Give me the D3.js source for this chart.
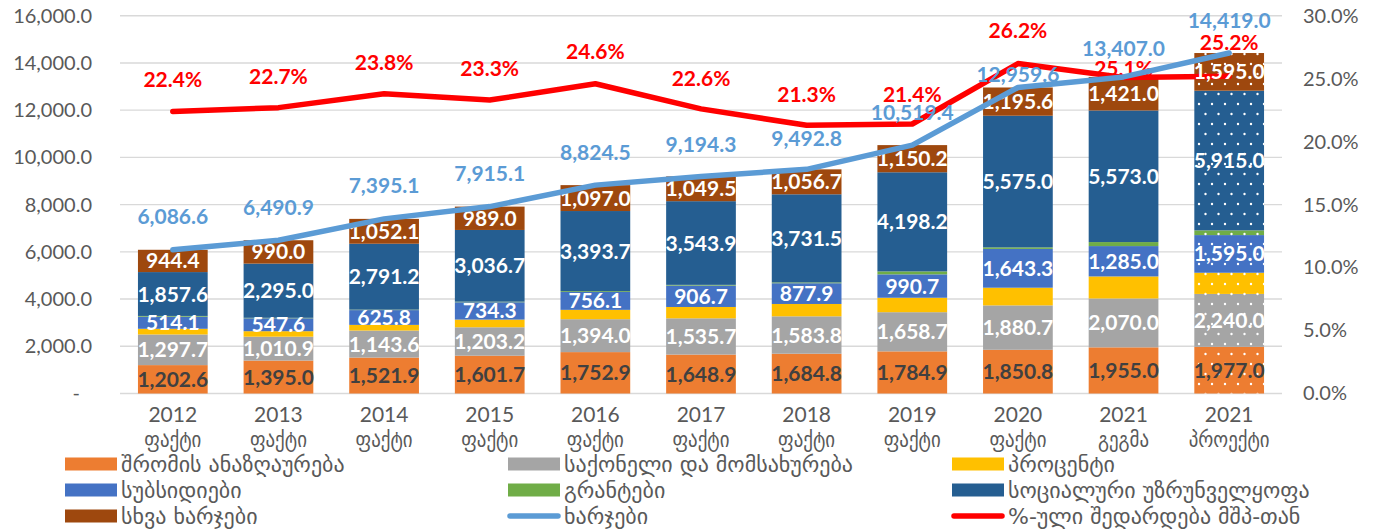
<!DOCTYPE html>
<html>
<head>
<meta charset="utf-8">
<script src="https://cdn.jsdelivr.net/npm/d3@7"></script>
<style>
  html, body { margin: 0; padding: 0; background: #fff; }
  svg { display: block; }
  text { font-family: Lato, "DejaVu Sans", sans-serif; }
</style>
</head>
<body>
<svg id="chart" width="1379" height="529"></svg>
<script>
// ---------------- DATA ----------------
const years = ["2012","2013","2014","2015","2016","2017","2018","2019","2020","2021","2021"];
const kinds = ["ფაქტი","ფაქტი","ფაქტი","ფაქტი","ფაქტი","ფაქტი","ფაქტი","ფაქტი","ფაქტი","გეგმა","პროექტი"];

const wages     = [1202.6, 1395.0, 1521.9, 1601.7, 1752.9, 1648.9, 1684.8, 1784.9, 1850.8, 1955.0, 1977.0];
const goods     = [1297.7, 1010.9, 1143.6, 1203.2, 1394.0, 1535.7, 1583.8, 1658.7, 1880.7, 2070.0, 2240.0];
const interest  = [240.2, 232.4, 240.5, 325.2, 395.8, 479.6, 523.1, 611.7, 749.2, 933.0, 897.0];
const subsidies = [514.1, 547.6, 625.8, 734.3, 756.1, 906.7, 877.9, 990.7, 1643.3, 1285.0, 1595.0];
const grants    = [30.0, 20.0, 20.0, 25.0, 35.0, 30.0, 35.0, 125.0, 65.0, 170.0, 200.0];
const social    = [1857.6, 2295.0, 2791.2, 3036.7, 3393.7, 3543.9, 3731.5, 4198.2, 5575.0, 5573.0, 5915.0];
const other     = [944.4, 990.0, 1052.1, 989.0, 1097.0, 1049.5, 1056.7, 1150.2, 1195.6, 1421.0, 1595.0];
const totals    = [6086.6, 6490.9, 7395.1, 7915.1, 8824.5, 9194.3, 9492.8, 10519.4, 12959.6, 13407.0, 14419.0];
const gdpShare  = [22.4, 22.7, 23.8, 23.3, 24.6, 22.6, 21.3, 21.4, 26.2, 25.1, 25.2];

const leftTicks  = [0, 2000, 4000, 6000, 8000, 10000, 12000, 14000, 16000];
const rightTicks = [0, 5, 10, 15, 20, 25, 30];

const seriesNames = ["შრომის ანაზღაურება","საქონელი და მომსახურება","პროცენტი","სუბსიდიები","გრანტები","სოციალური უზრუნველყოფა","სხვა ხარჯები"];
const totalName = "ხარჯები";
const pctName = "%-ული შედარდება მშპ-თან";

// ---------------- STYLE / LAYOUT ----------------
const seriesValues = [wages, goods, interest, subsidies, grants, social, other];
const seriesColors = ["#ED7D31","#A5A5A5","#FFC000","#4472C4","#70AD47","#255E91","#9E480E"];
const seriesLabelColor = ["#404040","#ffffff",null,"#ffffff",null,"#ffffff","#ffffff"];
const totalColor = "#5B9BD5", pctColor = "#FF0000";
const axisColor = "#595959", gridColor = "#D9D9D9";
const totalLabelLift = [33,33,33,33,33,32,31,33,13.5,28.6,32.3];
const pctLabelLift   = [31.5,31.5,31,31.7,32,30.6,31.3,30,33,9,33.5];
const geoFont = "Lato, 'DejaVu Sans Condensed', 'DejaVu Sans', sans-serif";
const legFont = "'DejaVu Sans', sans-serif";

const svg = d3.select("#chart");
const plotL = 120, plotR = 1282, plotB = 393.5, plotT = 15.7;

const x = d3.scaleBand().domain(d3.range(years.length)).range([plotL, plotR]).paddingInner(0.34).paddingOuter(0.17);
const y = d3.scaleLinear().domain([0, 16000]).range([plotB, plotT]);
const yR = d3.scaleLinear().domain([0, 30]).range([plotB, plotT]);
const cx = i => x(i) + x.bandwidth() / 2;

// pattern for the projected bar
const defs = svg.append("defs");
const pat = defs.append("pattern").attr("id","dots").attr("width",13).attr("height",20).attr("patternUnits","userSpaceOnUse");
pat.append("circle").attr("cx",3).attr("cy",4).attr("r",1.2).attr("fill","#fff");
pat.append("circle").attr("cx",9.5).attr("cy",14).attr("r",1.2).attr("fill","#fff");

// gridlines
svg.append("g").selectAll("line").data(leftTicks).join("line")
  .attr("x1", plotL).attr("x2", plotR)
  .attr("y1", d => y(d)).attr("y2", d => y(d))
  .attr("stroke", gridColor).attr("stroke-width", 1.4);

// left axis
const fmt = d3.format(",.1f");
const la = svg.append("g").attr("transform", `translate(${plotL - 28},0)`)
  .call(d3.axisLeft(y).tickValues(leftTicks).tickSize(0).tickPadding(0)
    .tickFormat(d => d === 0 ? "-" : fmt(d)));
la.select(".domain").remove();
la.selectAll("text").attr("fill", axisColor).style("font-size","20px").style("font-family","Lato, 'DejaVu Sans', sans-serif")
  .attr("dx", d => d === 0 ? -12 : 0);

// right axis
const ra = svg.append("g").attr("transform", `translate(${plotR + 21},0)`)
  .call(d3.axisRight(yR).tickValues(rightTicks).tickSize(0).tickPadding(0)
    .tickFormat(d => d3.format(".1f")(d) + "%"));
ra.select(".domain").remove();
ra.selectAll("text").attr("fill", axisColor).style("font-size","20px").style("font-family","Lato, 'DejaVu Sans', sans-serif");

// stacked bars
const stackData = years.map((_, i) => {
  const o = {i};
  seriesValues.forEach((arr, k) => o["s" + k] = arr[i]);
  return o;
});
const stacked = d3.stack().keys(seriesValues.map((_, k) => "s" + k))(stackData);

const barG = svg.append("g");
stacked.forEach((layer, k) => {
  barG.append("g").selectAll("rect").data(layer).join("rect")
    .attr("x", d => x(d.data.i)).attr("width", x.bandwidth())
    .attr("y", d => y(d[1])).attr("height", d => y(d[0]) - y(d[1]))
    .attr("fill", seriesColors[k]);
});
// pattern overlay on the projected bar
const last = years.length - 1;
stacked.forEach(layer => {
  const d = layer[last];
  barG.append("rect").attr("x", x(last)).attr("width", x.bandwidth())
    .attr("y", y(d[1])).attr("height", y(d[0]) - y(d[1])).attr("fill", "url(#dots)");
});

// red % line
const linePct = d3.line().x((d, i) => cx(i)).y(d => yR(d));
svg.append("path").datum(gdpShare).attr("d", linePct)
  .attr("fill","none").attr("stroke", pctColor).attr("stroke-width", 5.5)
  .attr("stroke-linejoin","round").attr("stroke-linecap","round");

// bar labels
const lblG = svg.append("g");
stacked.forEach((layer, k) => {
  if (!seriesLabelColor[k]) return;
  lblG.append("g").selectAll("text").data(layer).join("text")
    .attr("x", d => cx(d.data.i)).attr("y", d => (y(d[0]) + y(d[1])) / 2)
    .attr("dy","0.36em").attr("text-anchor","middle")
    .attr("fill", seriesLabelColor[k]).style("font-size","21px").style("font-weight","700")
    .text(d => fmt(d[1] - d[0]));
});

// pct labels
svg.append("g").selectAll("text").data(gdpShare).join("text")
  .attr("x", (d, i) => cx(i)).attr("y", (d, i) => yR(d) - pctLabelLift[i])
  .attr("dy","0.36em").attr("text-anchor","middle")
  .attr("fill", pctColor).style("font-size","21px").style("font-weight","700")
  .text(d => d.toFixed(1) + "%");

// blue total line
const lineTot = d3.line().x((d, i) => cx(i)).y(d => y(d));
svg.append("path").datum(totals).attr("d", lineTot)
  .attr("fill","none").attr("stroke", totalColor).attr("stroke-width", 5.5)
  .attr("stroke-linejoin","round").attr("stroke-linecap","round");

// total labels
svg.append("g").selectAll("text").data(totals).join("text")
  .attr("x", (d, i) => cx(i)).attr("y", (d, i) => y(d) - totalLabelLift[i])
  .attr("dy","0.36em").attr("text-anchor","middle")
  .attr("fill", totalColor).style("font-size","21px").style("font-weight","700")
  .text(d => fmt(d));

// x labels
const xl = svg.append("g");
years.forEach((yr, i) => {
  const t = xl.append("text").attr("x", cx(i)).attr("text-anchor","middle")
    .attr("fill", axisColor).style("font-size","21px").style("font-family", geoFont);
  t.append("tspan").attr("x", cx(i)).attr("y", 422).text(yr);
  t.append("tspan").attr("x", cx(i)).attr("y", 447).text(kinds[i]);
});

// legend
const legendItems = [
  {name: seriesNames[0], color: seriesColors[0], type: "bar"},
  {name: seriesNames[1], color: seriesColors[1], type: "bar"},
  {name: seriesNames[2], color: seriesColors[2], type: "bar"},
  {name: seriesNames[3], color: seriesColors[3], type: "bar"},
  {name: seriesNames[4], color: seriesColors[4], type: "bar"},
  {name: seriesNames[5], color: seriesColors[5], type: "bar"},
  {name: seriesNames[6], color: seriesColors[6], type: "bar"},
  {name: totalName, color: totalColor, type: "line"},
  {name: pctName, color: pctColor, type: "line"}
];
const legCols = [65, 508, 952];
const legRows = [464, 490, 516];
const lg = svg.append("g");
legendItems.forEach((it, j) => {
  const lx = legCols[j % 3], ly = legRows[Math.floor(j / 3)];
  if (it.type === "bar") {
    lg.append("rect").attr("x", lx).attr("y", ly - 6.5).attr("width", 52).attr("height", 13).attr("fill", it.color);
  } else {
    lg.append("line").attr("x1", lx + 2).attr("x2", lx + 50).attr("y1", ly).attr("y2", ly)
      .attr("stroke", it.color).attr("stroke-width", 5.5).attr("stroke-linecap","round");
  }
  lg.append("text").attr("x", lx + 56).attr("y", ly).attr("dy","0.36em")
    .attr("fill", axisColor).style("font-size","22px").style("font-family", legFont).text(it.name);
});
</script>
</body>
</html>
